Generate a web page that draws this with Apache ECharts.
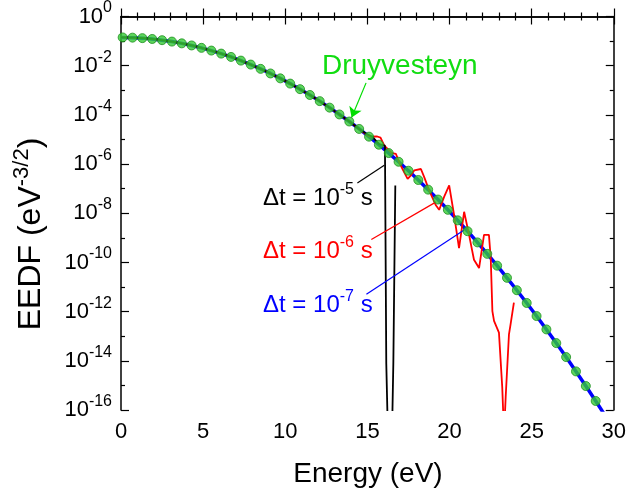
<!DOCTYPE html>
<html><head><meta charset="utf-8">
<script src="https://cdn.jsdelivr.net/npm/echarts@6/dist/echarts.min.js"></script>
<style>html,body{margin:0;padding:0;background:#fff}#c{width:629px;height:494px}</style>
</head><body><div id="c"></div>
<script>
// Druyvesteyn reference (green dots)
const dotEnergy = [0.1,0.7,1.3,1.9,2.5,3.1,3.7,4.3,4.9,5.5,6.1,6.7,7.3,7.9,8.5,9.1,9.7,10.3,10.9,11.5,12.1,12.7,13.3,13.9,14.5,15.1,15.7,16.3,16.9,17.5,18.1,18.7,19.3,19.9,20.5,21.1,21.7,22.3,22.9,23.5,24.1,24.7,25.3,25.9,26.5,27.1,27.7,28.3,28.9];
const druyvesteyn = [0.141,0.138,0.132,0.122,0.109,0.0955,0.0809,0.0665,0.0531,0.0412,0.0310,0.0227,0.0161,0.0111,7.43e-3,4.83e-3,3.05e-3,1.87e-3,1.11e-3,6.44e-4,3.62e-4,1.97e-4,1.04e-4,5.37e-5,2.68e-5,1.30e-5,6.12e-6,2.80e-6,1.24e-6,5.36e-7,2.25e-7,9.12e-8,3.61e-8,1.38e-8,5.15e-9,1.86e-9,6.53e-10,2.23e-10,7.38e-11,2.37e-11,7.41e-12,2.25e-12,6.61e-13,1.89e-13,5.25e-14,1.42e-14,3.71e-15,9.42e-16,2.33e-16];

// dt = 1e-7 s (blue)
const dt7Energy = [0,0.7,1.3,1.9,2.5,3.1,3.7,4.3,4.9,5.5,6.1,6.7,7.3,7.9,8.5,9.1,9.7,10.3,10.9,11.5,12.1,12.7,13.3,13.9,14.5,15.1,15.7,16.3,16.9,17.5,18.1,18.7,19.3,19.9,20.5,21.1,21.7,22.3,22.9,23.5,24.1,24.7,25.3,25.9,26.5,27.1,27.7,28.3,28.9,29.5];
const dt7 = [0.141,0.138,0.132,0.122,0.109,0.0955,0.0809,0.0665,0.0531,0.0412,0.0310,0.0227,0.0161,0.0111,7.43e-3,4.83e-3,3.05e-3,1.87e-3,1.11e-3,6.44e-4,3.62e-4,1.97e-4,1.04e-4,5.37e-5,2.68e-5,1.30e-5,6.12e-6,2.80e-6,1.24e-6,5.36e-7,2.25e-7,9.12e-8,3.61e-8,1.38e-8,5.15e-9,1.86e-9,6.53e-10,2.23e-10,7.38e-11,2.37e-11,7.41e-12,2.25e-12,6.61e-13,1.89e-13,5.25e-14,1.42e-14,3.71e-15,9.42e-16,2.33e-16,5.6e-17];

// dt = 1e-5 s (black)
const dt5Energy = [0,0.7,1.3,1.9,2.5,3.1,3.7,4.3,4.9,5.5,6.1,6.7,7.3,7.9,8.5,9.1,9.7,10.3,10.9,11.5,12.1,12.7,13.3,13.9,14.5,15.0,15.3,15.7,16.07,16.15,16.25,16.5,16.58,16.7];
const dt5 = [0.141,0.138,0.132,0.122,0.109,0.0955,0.0809,0.0665,0.0531,0.0412,0.0310,0.0227,0.0161,0.0111,7.43e-3,4.83e-3,3.05e-3,1.87e-3,1.11e-3,6.44e-4,3.62e-4,1.97e-4,1.04e-4,5.37e-5,2.68e-5,1.6e-5,1.3e-5,6.5e-6,5.6e-6,8e-15,1e-17,1e-17,8e-15,1.35e-7];

// dt = 1e-6 s (red)
const dt6Energy = [0,0.7,1.3,1.9,2.5,3.1,3.7,4.3,4.9,5.5,6.1,6.7,7.3,7.9,8.5,9.1,9.7,10.3,10.9,11.5,12.1,12.7,13.3,13.9,14.5,15.1,15.6,15.8,16.03,16.5,16.74,16.94,17.14,17.45,17.65,17.85,18.26,18.46,18.76,19.17,19.37,19.67,19.98,20.28,20.58,20.89,21.19,21.49,21.8,22.1,22.4,22.51,22.61,22.71,23.01,23.21,23.32,23.42,23.62,23.72,23.92];
const dt6 = [0.141,0.138,0.132,0.122,0.109,0.0955,0.0809,0.0665,0.0531,0.0412,0.0310,0.0227,0.0161,0.0111,7.43e-3,4.83e-3,3.05e-3,1.87e-3,1.11e-3,6.44e-4,3.62e-4,1.97e-4,1.04e-4,5.37e-5,2.68e-5,1.30e-5,1.32e-5,1.2e-5,5.6e-6,2.8e-6,2.57e-6,1.17e-6,6.3e-7,2.5e-7,3.5e-7,5.5e-7,6.3e-7,2.95e-7,8.5e-8,2.1e-8,1.38e-8,4.6e-8,1.35e-7,8.3e-9,3.8e-10,1.15e-8,1.32e-9,1.29e-10,5.9e-11,1.32e-9,1.32e-9,1.48e-10,1.05e-12,4.2e-13,1.4e-13,8.5e-16,1e-17,3.4e-16,1.2e-13,3.1e-13,2.3e-12];

const xTicks = [0,5,10,15,20,25,30];
const yTickExponents = [0,-2,-4,-6,-8,-10,-12,-14,-16];

const zip = (xs, ys) => xs.map((x, i) => [x, ys[i]]);
const FONT = 'Liberation Sans, Arial, sans-serif';

const chart = echarts.init(document.getElementById('c'), null, {renderer: 'canvas'});
const grid = {left: 121, right: 14, top: 13, bottom: 84};
const solid = (c) => ({color: c, width: 1.2, type: 'solid'});

const option = {
  animation: false,
  textStyle: {fontFamily: FONT},
  grid: grid,
  xAxis: [
    {type: 'value', min: xTicks[0], max: xTicks[xTicks.length - 1], interval: 5, position: 'bottom',
     axisLine: {show: true, lineStyle: {color: '#000', width: 1.5}},
     axisTick: {show: true, inside: true, length: 8, lineStyle: {color: '#000', width: 1.2}},
     minorTick: {show: true, splitNumber: 5, length: 4, lineStyle: {color: '#000', width: 1.2}},
     axisLabel: {show: true, fontSize: 22, color: '#000', margin: 11, fontFamily: FONT},
     splitLine: {show: false}},
    {type: 'value', min: xTicks[0], max: xTicks[xTicks.length - 1], interval: 5, position: 'top',
     axisLine: {show: true, lineStyle: {color: '#000', width: 1.5}},
     axisTick: {show: true, inside: true, length: 8, lineStyle: {color: '#000', width: 1.2}},
     minorTick: {show: true, splitNumber: 5, length: 4, lineStyle: {color: '#000', width: 1.2}},
     axisLabel: {show: false}, splitLine: {show: false}}
  ],
  yAxis: [
    {type: 'log', logBase: 10, min: Math.pow(10, yTickExponents[yTickExponents.length - 1]), max: Math.pow(10, yTickExponents[0]),
     interval: 2, position: 'left',
     axisLine: {show: true, lineStyle: {color: '#000', width: 1.5}},
     axisTick: {show: true, inside: true, length: 8, lineStyle: {color: '#000', width: 1.2}},
     minorTick: {show: false},
     axisLabel: {show: true, margin: 9, color: '#000',
       formatter: function (v) { const e = Math.round(Math.log10(v)); return '{n|10}{s|' + e + '}'; },
       rich: {n: {fontSize: 22, color: '#000', fontFamily: FONT},
              s: {fontSize: 16, color: '#000', fontFamily: FONT, padding: [0, 0, 17, 0]}}},
     splitLine: {show: false}},
    {type: 'value', min: -16, max: 0, interval: 2, position: 'left',
     axisLine: {show: false}, axisTick: {show: false, inside: true},
     minorTick: {show: true, splitNumber: 2, length: 4, lineStyle: {color: '#000', width: 1.2}},
     axisLabel: {show: false}, splitLine: {show: false}, minorSplitLine: {show: false}},
    {type: 'value', min: -16, max: 0, interval: 2, position: 'right',
     axisLine: {show: true, lineStyle: {color: '#000', width: 1.5}},
     axisTick: {show: true, inside: true, length: 8, lineStyle: {color: '#000', width: 1.2}},
     minorTick: {show: true, splitNumber: 2, length: 4, lineStyle: {color: '#000', width: 1.2}},
     axisLabel: {show: false}, splitLine: {show: false}}
  ],
  series: [
    {name: 'dt7', type: 'line', xAxisIndex: 0, yAxisIndex: 0, data: zip(dt7Energy, dt7),
     showSymbol: false, symbol: 'none', clip: true, lineStyle: {color: '#0000ff', width: 3.5}, z: 2,
     markLine: {silent: true, symbol: 'none', animation: false, label: {show: false},
       data: [
         [{coord: [14.39, 1.7e-7], lineStyle: solid('#000')}, {coord: [16.03, 8.9e-7]}],
         [{coord: [15.24, 8.5e-10], lineStyle: solid('#ff0000')}, {coord: [19.19, 2.9e-8]}],
         [{coord: [14.94, 5.1e-12], lineStyle: solid('#0000ff')}, {coord: [20.89, 2.1e-9]}]
       ]}},
    {name: 'dt6', type: 'line', xAxisIndex: 0, yAxisIndex: 0, data: zip(dt6Energy, dt6),
     showSymbol: false, symbol: 'none', clip: true, lineStyle: {color: '#ff0000', width: 1.8}, z: 3},
    {name: 'dt5', type: 'line', xAxisIndex: 0, yAxisIndex: 0, data: zip(dt5Energy, dt5),
     showSymbol: false, symbol: 'none', clip: true, lineStyle: {color: '#000', width: 1.8}, z: 4},
    {name: 'Druyvesteyn', type: 'scatter', xAxisIndex: 0, yAxisIndex: 0, data: zip(dotEnergy, druyvesteyn),
     symbol: 'circle', symbolSize: 9, clip: true,
     itemStyle: {color: '#33cc33', borderColor: '#1f8f1f', borderWidth: 1}, z: 5,
     markLine: {silent: true, symbol: ['none', 'arrow'], symbolSize: 10, animation: false, label: {show: false},
       lineStyle: {color: '#00dd00', width: 1.2, type: 'solid'},
       data: [[{coord: [14.92, 2.0e-3]}, {coord: [14.04, 7.8e-5]}]]}}
  ],
  graphic: [
    {type: 'text', x: 31, y: 234, rotation: Math.PI / 2, silent: true,
     style: {text: '{t|EEDF (eV}{s|-3/2}{t|)}', align: 'center', verticalAlign: 'middle',
       rich: {t: {fontSize: 32, fill: '#000', fontFamily: FONT}, s: {fontSize: 22, fill: '#000', fontFamily: FONT, padding: [0, 0, 18, 0]}}}},
    {type: 'text', x: 368, y: 474, silent: true,
     style: {text: 'Energy (eV)', fontSize: 28, fill: '#000', fontFamily: FONT, align: 'center', verticalAlign: 'middle'}},
    {type: 'text', x: 322, y: 66, silent: true,
     style: {text: 'Druyvesteyn', fontSize: 28, fill: '#11dd11', fontFamily: FONT, align: 'left', verticalAlign: 'middle'}},
    {type: 'text', x: 263, y: 198, silent: true,
     style: {text: '{a|\u0394t = 10}{s|-5}{a| s}', align: 'left', verticalAlign: 'middle',
       rich: {a: {fontSize: 24, fill: '#000', fontFamily: FONT}, s: {fontSize: 16, fill: '#000', fontFamily: FONT, padding: [0, 0, 16, 0]}}}},
    {type: 'text', x: 263, y: 251, silent: true,
     style: {text: '{a|\u0394t = 10}{s|-6}{a| s}', align: 'left', verticalAlign: 'middle',
       rich: {a: {fontSize: 24, fill: '#ff0000', fontFamily: FONT}, s: {fontSize: 16, fill: '#ff0000', fontFamily: FONT, padding: [0, 0, 16, 0]}}}},
    {type: 'text', x: 263, y: 305, silent: true,
     style: {text: '{a|\u0394t = 10}{s|-7}{a| s}', align: 'left', verticalAlign: 'middle',
       rich: {a: {fontSize: 24, fill: '#0000ff', fontFamily: FONT}, s: {fontSize: 16, fill: '#0000ff', fontFamily: FONT, padding: [0, 0, 16, 0]}}}}
  ]
};
chart.setOption(option);
</script>
</body></html>
